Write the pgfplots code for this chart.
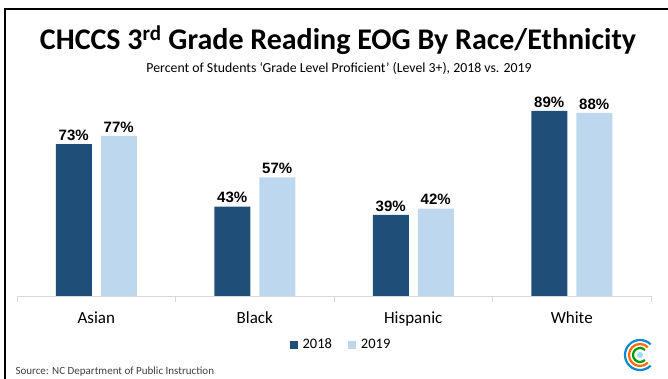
\documentclass[border=0pt]{standalone}
\usepackage{pgfplots}
\pgfplotsset{compat=1.18}
\usepackage{fontspec}
\setmainfont{Carlito}
\newfontfamily\arialf{Liberation Sans}

\definecolor{dark}{HTML}{1F4E79}
\definecolor{light}{HTML}{BDD7EE}
\definecolor{gridc}{HTML}{D9D9D9}

\begin{document}
\begin{tikzpicture}
\path[use as bounding box] (0pt,0pt) rectangle (668pt,379pt);
\draw[line width=2.5pt] (5pt,0pt) -- (5pt,370pt) -- (668pt,370pt);

\node[anchor=base, font=\bfseries\fontsize{30}{34}\selectfont] at (338pt,329pt)
  {CHCCS 3\textsuperscript{rd} Grade Reading EOG By Race/Ethnicity};
\node[anchor=base, font=\fontsize{13.8}{16}\selectfont] at (339pt,306.5pt)
  {Percent of Students ‘Grade Level Proficient’ (Level 3+), 2018 vs. 2019};
\node[anchor=base west, font=\fontsize{11}{13}\selectfont, text=black!75] at (12pt,4pt)
  {Source: NC Department of Public Instruction};

% logo
\begin{scope}[shift={(640pt,24pt)}, line width=2.2pt]
  \draw[cyan!70!blue] (45:15pt) arc (45:315:15pt);
  \draw[orange!85!red] (45:11pt) arc (45:315:11pt);
  \draw[green!60!black] (45:7pt) arc (45:315:7pt);
  \fill[cyan!40] (0pt,0pt) circle (3pt);
\end{scope}

\begin{axis}[
    at={(17pt,83pt)}, anchor=south west,
    scale only axis, width=634pt, height=208pt,
    ybar=9pt, bar width=36pt,
    xmin=-0.5, xmax=3.5, ymin=0, ymax=100,
    hide y axis,
    axis x line*=bottom,
    x axis line style={draw=gridc, -},
    xtick={0,1,2,3},
    xticklabels={Asian,Black,Hispanic,White},
    xtick style={draw=none},
    xticklabel style={font=\fontsize{17}{20}\selectfont, yshift=-8pt},
    extra x ticks={-0.5,0.5,1.5,2.5,3.5},
    extra x tick labels={},
    extra x tick style={tick align=outside, major tick length=6pt,
      xtick style={draw=gridc}},
    /pgf/number format/assume math mode=true,
    nodes near coords={\pgfmathprintnumber{\pgfplotspointmeta}\%},
    every node near coord/.append style={font=\arialf\bfseries\fontsize{15}{18}\selectfont, black},
    legend style={at={(0.511,-0.234)}, anchor=center, draw=none,
      legend columns=2, font=\fontsize{14.5}{17}\selectfont,
      /tikz/every odd column/.append style={column sep=3pt},
      /tikz/every even column/.append style={column sep=14pt}},
    clip=false,
  ]
  \addplot[draw=none, fill=dark,
    legend image code/.code={\fill[dark] (0pt,-4pt) rectangle (8pt,4pt);}]
    coordinates {(0,73) (1,43) (2,39) (3,89)};
  \addplot[draw=none, fill=light,
    legend image code/.code={\fill[light] (0pt,-4pt) rectangle (8pt,4pt);}]
    coordinates {(0,77) (1,57) (2,42) (3,88)};
  \legend{2018,2019}
\end{axis}
\end{tikzpicture}
\end{document}
